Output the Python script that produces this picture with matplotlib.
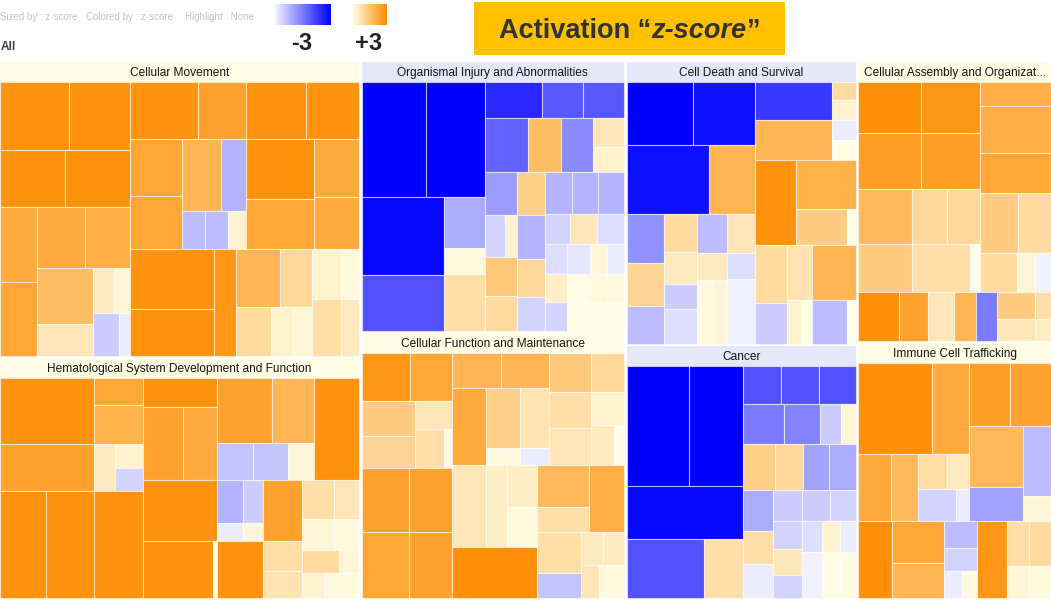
import matplotlib.pyplot as plt
from matplotlib.colors import LinearSegmentedColormap, Normalize
from matplotlib.patches import Rectangle
import numpy as np


def g(weights, *children):
    # one split of the treemap: relative sizes + children (z-score leaves or sub-splits)
    return (weights, list(children))


# ---- treemap data: nested splits, leaves are activation z-scores ----
cellular_movement = g([130, 230],
    g([68, 56, 147],
      g([69, 61], 2.8, 2.8),
      g([65, 65], 2.8, 2.8),
      g([37, 93],
        g([73, 73], 2.2, 2.3),
        g([60, 87],
          g([48, 45], 2.2, 2.1),
          g([56, 37],
            g([54, 31], 1.7, 0.6),
            g([44, 43], g([21, 15], 0.5, 0.2), g([26, 10], -0.5, -0.1)))))),
    g([168, 107],
      g([115, 112],
        g([58, 110],
          g([68, 47], 2.8, 2.4),
          g([52, 63],
            g([55, 52], 2.3, 2.3),
            g([72, 38], g([38, 25], 1.9, -0.8), g([22, 23, 17], -0.7, -0.7, 0.3)))),
        g([58, 110],
          g([59, 53], 2.8, 2.8),
          g([67, 45], g([60, 50], 2.85, 2.3), g([58, 52], 2.2, 2.2)))),
      g([83, 22, 75, 47],
        g([60, 47], 2.8, 2.8),
        2.7,
        g([58, 49], g([44, 31], 1.9, 1.0), g([35, 22, 18], 0.9, 0.3, 0.2)),
        g([50, 57], g([29, 18], 0.3, 0.1), g([29, 18], 0.8, 0.5)))))

hematological = g([143, 75, 142],
    g([109, 104],
      g([94, 48],
        g([62, 44], 2.8, 2.4),
        g([26, 37, 45], 2.3, 2.0, g([20, 28], 0.5, g([23, 22], 0.3, -0.4)))),
      g([45, 48, 48], 2.8, 2.8, 2.8)),
    g([28, 70, 58, 55],
      2.8,
      g([40, 34], 2.4, 2.2),
      2.8,
      g([70, 4], 2.8, 0.0)),
    g([99, 114],
      g([97, 45],
        g([63, 36], g([54, 42], 2.4, 1.9), g([35, 35, 26], -0.6, -0.6, 0.2)),
        2.8),
      g([45, 39, 56],
        g([40, 17, 54], g([25, 20], -0.8, -0.5), g([25, 20], -0.1, 0.2), 2.8),
        g([58, 29, 26], 2.4, 0.8, 0.7),
        g([37, 30, 22, 24],
          g([31, 25], 0.8, 0.6), g([31, 25], 0.2, 0.1),
          g([36, 20], 0.9, 0.2), g([21, 35], 0.3, 0.1)))))

organismal_injury = g([121, 137],
    g([114, 132],
      g([62, 57], -3.0, -3.0),
      g([78, 39], g([76, 54], -2.9, -2.0), g([49, 25, 54], -0.9, 0.1, 0.8))),
    g([36, 52, 155],
      g([54, 39, 39], -2.5, -1.9, -1.9),
      g([41, 32, 30, 30], -1.8, 1.7, -1.3, g([28, 24], 0.6, 0.3)),
      g([32, 27, 78],
        g([41, 40, 37, 33], -1.1, g([21, 12], -0.4, 0.3), 1.4, 0.9),
        g([41, 42, 37, 32], 1.2, -0.8, 1.0, -0.4),
        g([41, 29, 30, 27, 28],
          g([27, 26, 26], -0.8, -0.8, -0.8),
          g([25, 26, 26], -0.4, 0.6, -0.3),
          g([22, 23, 17, 17], -0.3, -0.2, 0.2, -0.1),
          g([22, 20, 20, 17], 0.4, 0.0, 0.1, 0.1),
          g([22, 20, 20, 17], -0.4, 0.0, 0.0, 0.0)))))

cellular_function = g([90, 170],
    g([47, 66, 63, 65],
      g([47, 42], 2.7, 2.3),
      g([52, 36], g([35, 31], 1.3, 1.1), g([28, 38], 0.6, g([28, 8], 0.8, 0.0))),
      g([46, 42], 2.4, 2.4),
      g([46, 42], 2.3, 2.4)),
    g([111, 131],
      g([95, 74],
        g([35, 76],
          g([47, 47], 1.9, 1.9),
          g([33, 62], 2.2, g([59, 17], g([33, 28], 1.2, 0.7), g([33, 28], 0.1, -0.1)))),
        g([39, 72],
          g([41, 33], 1.4, 1.0),
          g([41, 33], g([35, 37], 0.8, 0.6), g([32, 40], 0.3, g([23, 10], 0.5, 0.0))))),
      g([83, 85],
        g([81, 50], g([33, 20, 30], 0.6, 0.4, g([41, 40], 0.4, 0.1)), 2.9),
        g([66, 65],
          g([51, 34], g([41, 25], 1.8, 0.8), 2.1),
          g([43, 42], g([40, 25], 0.8, -0.6),
            g([32, 33], g([21, 20], 0.5, 0.5), g([17, 24], 0.6, 0.1)))))))

cell_death = g([128, 100],
    g([63, 68, 128],
      g([65, 60], -3.0, -2.8),
      g([81, 46], -2.8, 1.9),
      g([37, 33, 30, 28],
        g([47, 42, 36], -1.2, 1.1, -0.7),
        g([37, 31, 24, 34], 0.9, 0.5, -0.5, -0.3),
        g([38, 27, 62], -0.7, 0.5, g([16, 14], 0.1, 0.15)),
        g([38, 25, 63], 0.6, -0.3, -0.05))),
    g([78, 84, 98],
      g([75, 24], g([38, 39], -2.3, 1.9), g([18, 20, 20, 20], 0.9, 0.3, -0.1, 0.0)),
      g([40, 59], 2.8, g([47, 35], 2.0, g([50, 9], 1.3, 0.0))),
      g([31, 25, 43],
        g([58, 40], 0.9, -0.5),
        g([55, 43], 0.7, g([14, 11], 0.3, 0.0)),
        g([55, 43], 1.9, g([34, 9], -0.7, 0.0)))))

cancer = g([116, 112],
    g([120, 53, 59],
      g([61, 53], -3.0, -3.0),
      -2.9,
      g([76, 39], -2.0, 0.8)),
    g([38, 40, 45, 107],
      g([36, 37, 35], -2.0, -2.0, -2.0),
      g([38, 34, 20, 14], -1.5, -1.4, -0.5, 0.2),
      g([30, 26, 25, 25], 1.2, 1.0, -1.0, -0.9),
      g([29, 28, 53],
        g([40, 32, 33], -0.9, 0.8, -0.1),
        g([30, 28, 25, 23], -0.5, -0.4, 0.6, -0.4),
        g([30, 30, 45],
          g([28, 25], -0.5, -0.4),
          g([20, 17, 16], -0.3, 0.3, -0.1),
          g([20, 17, 16], -0.05, 0.0, 0.05)))))

cellular_assembly = g([208, 48],
    g([122, 71],
      g([50, 55, 54, 47],
        g([62, 59], 2.9, 2.7),
        g([62, 59], 2.5, 2.5),
        g([53, 35, 33], 1.8, 1.0, 1.0),
        g([53, 58, 10], 1.3, 0.8, 0.0)),
      g([24, 46, 39, 59, 38],
        2.1, 2.1, 2.3,
        g([37, 33], 1.3, 0.9),
        g([36, 17, 16], 0.9, 0.2, -0.05))),
    g([40, 28, 25, 22, 20, 37, 16],
      2.9, 2.4, 0.6, 1.9, -1.5,
      g([27, 21], 1.3, 0.6),
      g([27, 21], 0.8, 0.4)))

immune_trafficking = g([156, 76],
    g([110, 81],
      g([89, 66],
        g([72, 37], 2.9, 2.2),
        g([32, 27, 50], 2.2, 1.8,
          g([35, 31], g([28, 22], 0.8, 0.5), g([37, 13], -0.4, -0.1)))),
      g([62, 94],
        g([40, 40], 2.5, 2.4),
        g([53, 27], g([60, 33], 1.8, -1.0), g([69, 25], -0.7, 0.2)))),
    g([33, 51, 32, 30, 43],
      2.9,
      g([41, 34], 2.3, 1.9),
      g([27, 22, 27], -0.7, -0.4, g([18, 14], -0.1, 0.1)),
      2.7,
      g([44, 32], g([21, 22], 0.8, 0.9), g([21, 22], 0.2, 0.1))))

# columns of the treemap, each holding two categories (top, bottom)
column_weights = [360, 263, 230, 193]
column_panels = [
    [("Cellular Movement", cellular_movement, True, "up"),
     ("Hematological System Development and Function", hematological, True, "up")],
    [("Organismal Injury and Abnormalities", organismal_injury, True, "down"),
     ("Cellular Function and Maintenance", cellular_function, True, "up")],
    [("Cell Death and Survival", cell_death, True, "down"),
     ("Cancer", cancer, True, "down")],
    [("Cellular Assembly and Organizat...", cellular_assembly, False, "up"),
     ("Immune Cell Trafficking", immune_trafficking, False, "up")],
]
panel_weights = [[295, 240], [270, 266], [283, 253], [280, 256]]

zmin, zmax = -3, 3
cmap = LinearSegmentedColormap.from_list(
    "zscore", [(0.0, "#0000ff"), (0.4999, "#f5f5ff"), (0.5, "#fffde6"), (1.0, "#ff8c00")])
norm = Normalize(zmin, zmax)
header_colors = {"up": "#fffde4", "down": "#e7e7fa"}


def layout(node, x, y, w, h, horiz, out):
    if not isinstance(node, tuple):
        out.append((x, y, w, h, node))
        return
    weights, children = node
    total = float(sum(weights))
    pos = 0.0
    for wt, child in zip(weights, children):
        f = wt / total
        if horiz:
            layout(child, x + pos * w, y, f * w, h, not horiz, out)
        else:
            layout(child, x, y + pos * h, w, f * h, not horiz, out)
        pos += f


fig = plt.figure(figsize=(10.51, 6.06), dpi=100)
ax = fig.add_axes([0, 0, 1, 1])
ax.set_xlim(0, 1051)
ax.set_ylim(606, 0)
ax.axis("off")

# treemap area
left, top, right, bottom = 0, 62, 1051, 598
gap = 2.5
header_h = 19.5

avail_w = (right - left) - gap * (len(column_weights) - 1)
x0 = left
for cw, panels, pw in zip(column_weights, column_panels, panel_weights):
    col_w = avail_w * cw / sum(column_weights)
    avail_h = (bottom - top) - gap * (len(panels) - 1)
    y0 = top
    for (name, tree, horiz, tone), ph in zip(panels, pw):
        pan_h = avail_h * ph / sum(pw)
        ax.add_patch(Rectangle((x0, y0), col_w, header_h, facecolor=header_colors[tone],
                               edgecolor="none"))
        ax.text(x0 + col_w / 2, y0 + header_h / 2 + 1, name, ha="center", va="center",
                fontsize=8.6, color="#151515", family="Liberation Sans")
        cells = []
        layout(tree, x0, y0 + header_h, col_w, pan_h - header_h, horiz, cells)
        for cx, cy, cw_, ch_, z in cells:
            ax.add_patch(Rectangle((cx, cy), cw_, ch_, facecolor=cmap(norm(z)),
                                   edgecolor=(1, 1, 1, 0.55), linewidth=0.8))
        y0 += pan_h + gap
    x0 += col_w + gap

# colour key
grad = np.linspace(0, 1, 256)[None, :]
ax.imshow(grad * zmin, cmap=cmap, norm=norm, extent=(275, 331, 25, 4), aspect="auto")
ax.imshow(grad * zmax, cmap=cmap, norm=norm, extent=(353, 387, 25, 4), aspect="auto")
ax.text(301.5, 50, "-3", ha="center", va="baseline", fontsize=17, fontweight="bold",
        color="#222222", family="Liberation Sans")
ax.text(369, 50, "+3", ha="center", va="baseline", fontsize=17, fontweight="bold",
        color="#222222", family="Liberation Sans")

# top info line
info_kw = dict(fontsize=7, color="#c4c4c4", va="center", family="Liberation Sans")
ax.text(0.5, 17, "Sized by : z-score", ha="left", **info_kw)
ax.text(86, 17, "Colored by : z-score", ha="left", **info_kw)
ax.text(185, 17, "Highlight : None", ha="left", **info_kw)
ax.text(0.5, 47, "All", ha="left", va="center", fontsize=8.5, color="#444444",
        fontweight="bold", family="Liberation Sans")

# title box
ax.add_patch(Rectangle((474, 2), 311, 53, facecolor="#ffc000", edgecolor="none"))
pieces = [("Activation \u201c", "normal"), ("z-score", "italic"), ("\u201d", "normal")]
renderer = fig.canvas.get_renderer()
texts = []
for s, style in pieces:
    t = ax.text(0, 37.5, s, ha="left", va="baseline", fontsize=19.5, fontweight="bold",
                fontstyle=style, color="#333333", family="Liberation Sans")
    texts.append(t)
inv = ax.transData.inverted()
widths = []
for t in texts:
    bb = t.get_window_extent(renderer)
    widths.append(inv.transform((bb.x1, 0))[0] - inv.transform((bb.x0, 0))[0])
xpos = 629.5 - sum(widths) / 2
for t, wd in zip(texts, widths):
    t.set_x(xpos)
    xpos += wd

fig.savefig("out.png", dpi=100)
